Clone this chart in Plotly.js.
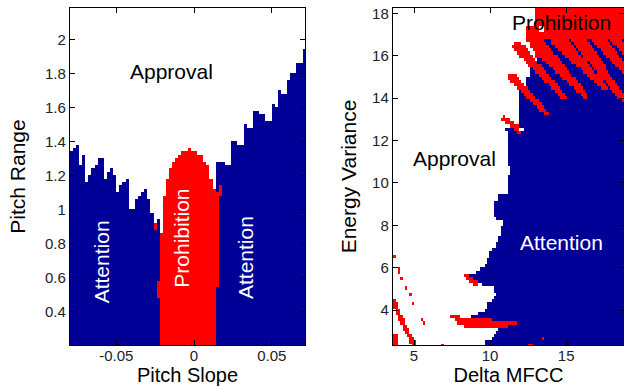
<!DOCTYPE html>
<html><head><meta charset="utf-8">
<script src="https://cdn.plot.ly/plotly-3.0.1.min.js"></script>
<style>html,body{margin:0;padding:0;background:#fff}</style>
</head><body><div id="chart" style="width:624px;height:386px"></div>
<script>
// ---------- Left panel: Pitch Slope vs Pitch Range ----------
const pitchSlope = [-0.079,-0.077,-0.075,-0.073,-0.071,-0.069,-0.067,-0.065,-0.063,-0.061,
  -0.059,-0.057,-0.055,-0.053,-0.051,-0.049,-0.047,-0.045,-0.043,-0.041,
  -0.039,-0.037,-0.035,-0.033,-0.031,-0.029,-0.027,-0.025,-0.023,-0.021,
  -0.019,-0.017,-0.015,-0.013,-0.011,-0.009,-0.007,-0.005,-0.003,-0.001,
  0.001,0.003,0.005,0.007,0.009,0.011,0.013,0.015,0.017,0.019,
  0.021,0.023,0.025,0.027,0.029,0.031,0.033,0.035,0.037,0.039,
  0.041,0.043,0.045,0.047,0.049,0.051,0.053,0.055,0.057,0.059,
  0.061,0.063,0.065,0.067,0.069,0.071];
// upper edge of the "Attention" region in each column (Pitch Range)
const attentionTop = [1.34,1.36,1.38,1.26,1.315,1.16,1.20,1.24,1.27,1.295,
  1.31,1.18,1.22,1.24,1.20,1.10,1.14,1.16,1.18,1.00,
  1.00,1.06,1.08,1.10,1.12,1.06,0.98,0.88,0.94,0,
  0,0,0,0,0,0,0,0,0,0,
  0,0,0,0,0,0,0,1.28,1.28,1.28,
  1.27,1.256,1.40,1.40,1.38,1.38,1.50,1.48,1.48,1.58,
  1.58,1.555,1.555,1.53,1.53,1.615,1.60,1.70,1.68,1.68,
  1.755,1.81,1.81,1.86,1.87,1.94];
// "Prohibition" interval in each column
const prohibLo = [null,null,null,null,null,null,null,null,null,null,
  null,null,null,null,null,null,null,null,null,null,
  null,null,null,null,null,null,null,0.88,0.49,0,
  0,0,0,0,0,0,0,0,0,0,
  0,0,0,0,0,0,0,0.55,1.08,null,
  null,null,null,null,null,null,null,null,null,null,
  null,null,null,null,null,null,null,null,null,null,
  null,null,null,null,null,null];
const prohibHi = [null,null,null,null,null,null,null,null,null,null,
  null,null,null,null,null,null,null,null,null,null,
  null,null,null,null,null,null,null,0.92,0.57,0.86,
  1.08,1.17,1.23,1.27,1.30,1.32,1.34,1.34,1.35,1.34,
  1.33,1.32,1.31,1.28,1.25,1.18,1.12,1.10,1.14,null,
  null,null,null,null,null,null,null,null,null,null,
  null,null,null,null,null,null,null,null,null,null,
  null,null,null,null,null,null];

// ---------- Right panel: Delta MFCC vs Energy Variance ----------
// horizontal bands: lower Energy Variance edge and Delta MFCC where "Attention" begins
const bandLow   = [2.30,2.49,2.68,2.82,2.96,3.15,3.40,3.58,3.76,3.91,4.09,4.33,4.57,4.71,4.85,5.04,5.18,5.32,5.51,5.65,5.79,5.98,6.22,6.45,6.69,6.83,6.97,7.16,7.54,7.92,8.25,8.39,9.19,9.38,10.37,10.75,12.40,12.64,14.48,14.99,15.56,15.94];
const bandStart = [9.61,10.07,10.26,10.39,10.53,10.99,9.87,8.82,9.26,9.61,9.87,10.09,10.26,10.41,10.20,9.47,9.14,8.82,8.55,9.03,9.32,9.61,9.76,9.93,10.10,10.26,10.41,10.59,10.74,10.79,10.33,10.22,10.53,11.20,11.32,11.20,10.99,11.91,12.30,12.70,13.09,13.09];
// solid "Prohibition" blocks (Delta MFCC from/to, Energy Variance from/to)
const blockX0 = [12.40,12.90,13.20];
const blockX1 = [12.95,13.25,18.90];
const blockY0 = [16.65,15.94,16.75];
const blockY1 = [17.45,18.40,18.40];
// "Prohibition" streaks: start / end points and widths at both ends
const streakX0 = [3.68,4.20,3.72,8.42,7.55,7.87,8.50,10.95,10.95,11.43,11.84,13.16,14.47,15.79,16.97,18.03];
const streakY0 = [4.40,3.45,2.80,5.60,3.68,3.50,3.30,3.40,13.00,14.99,16.41,16.50,16.74,16.83,16.98,16.98];
const streakX1 = [4.20,5.02,3.72,9.08,7.80,9.90,11.00,11.65,11.90,13.73,14.93,16.25,17.50,18.68,18.82,18.82];
const streakY1 = [3.45,2.36,2.33,5.22,3.68,3.45,3.25,3.35,12.50,13.29,14.00,14.14,14.52,14.00,15.32,16.27];
const streakW0 = [3,3,3,3,3,4,5,3,4,7,9,13,13,13,13,10];
const streakW1 = [3,3,3,3,3,4,5,3,4,3,3,4,4,4,5,5];
// isolated "Prohibition" cells
const dotX = [3.72,3.72,3.95,3.95,4.07,4.07,4.24,4.40,4.57,4.72,4.87,5.49,5.66,6.84,12.55,12.75,13.40];
const dotY = [6.75,6.55,6.25,6.10,5.90,5.75,5.46,5.10,4.80,4.65,4.33,3.55,3.36,2.40,2.40,2.40,2.62];
// small "Approval" gaps
const gapX0 = [13.20,11.84];
const gapX1 = [13.60,12.17];
const gapY0 = [17.07,12.40];
const gapY1 = [17.45,12.64];

// ---------- build left grid ----------
const leftRows = [];
for (let y = 0.21; y < 2.2; y += 0.02) leftRows.push(+y.toFixed(3));
const zL = leftRows.map(y => pitchSlope.map((x, i) => {
  if (prohibLo[i] !== null && y >= prohibLo[i] && y <= prohibHi[i]) return 2;
  return y < attentionTop[i] ? 1 : 0;
}));

// ---------- build right grid ----------
const rx = [], ry = [];
for (let x = 3.575; x < 19; x += 0.15) rx.push(+x.toFixed(3));
for (let y = 2.325; y < 18.5; y += 0.15) ry.push(+y.toFixed(3));
const PXX = 15.2, PXY = 21.19; // pixel scale, used for streak width only
function segDist(px, py, k) {
  const ax = streakX0[k]*PXX, ay = streakY0[k]*PXY, bx = streakX1[k]*PXX, by = streakY1[k]*PXY;
  const X = px*PXX, Y = py*PXY;
  const dx = bx-ax, dy = by-ay, L2 = dx*dx+dy*dy;
  let t = L2 ? ((X-ax)*dx+(Y-ay)*dy)/L2 : 0; t = Math.max(0, Math.min(1, t));
  const cx = ax+t*dx, cy = ay+t*dy;
  return {d: Math.hypot(X-cx, Y-cy), t};
}
const zR = ry.map(y => rx.map(x => {
  let v = 0;
  let b = -1;
  for (let k = 0; k < bandLow.length; k++) if (y >= bandLow[k]) b = k;
  if (b >= 0 && x >= bandStart[b]) v = 1;
  for (let k = 0; k < blockX0.length; k++)
    if (x >= blockX0[k] && x < blockX1[k] && y >= blockY0[k] && y < blockY1[k]) v = 2;
  for (let k = 0; k < streakX0.length; k++) {
    const r = segDist(x, y, k);
    const w = streakW0[k] + (streakW1[k]-streakW0[k])*r.t;
    if (r.d <= w/2 + 0.9) v = 2;
  }
  for (let k = 0; k < dotX.length; k++)
    if (Math.abs(x-dotX[k]) <= 0.075 && Math.abs(y-dotY[k]) <= 0.075) v = 2;
  for (let k = 0; k < gapX0.length; k++)
    if (x >= gapX0[k] && x < gapX1[k] && y >= gapY0[k] && y < gapY1[k]) v = 0;
  return v;
}));

const BLUE = '#000096', RED = '#ff0000';
const cs = [[0,'#ffffff'],[0.33,'#ffffff'],[0.34,BLUE],[0.66,BLUE],[0.67,RED],[1,RED]];
const traces = [
  {type:'heatmap', x: pitchSlope, y: leftRows, z: zL, zmin:0, zmax:2, colorscale: cs, showscale:false, xaxis:'x', yaxis:'y', hoverinfo:'skip'},
  {type:'heatmap', x: rx, y: ry, z: zR, zmin:0, zmax:2, colorscale: cs, showscale:false, xaxis:'x2', yaxis:'y2', hoverinfo:'skip'}
];

const axBase = {showline:true, linecolor:'#000', linewidth:1.2, mirror:'ticks', ticks:'inside', ticklen:5,
  tickcolor:'#000', showgrid:false, zeroline:false, tickfont:{size:15, color:'#222'}};
const yTop = (386-8)/386, yBot = (386-345)/386;
const layout = {
  width:624, height:386, margin:{l:0,r:0,t:0,b:0}, paper_bgcolor:'#fff', plot_bgcolor:'#fff', showlegend:false,
  font:{family:'Liberation Sans, Arial, sans-serif', color:'#000'},
  xaxis: Object.assign({}, axBase, {domain:[70/624, 305/624], range:[-0.0798, 0.0714], anchor:'y', ticklabelstandoff:-3,
    tickvals:[-0.05,0,0.05], ticktext:['-0.05','0','0.05'], title:{text:'Pitch Slope', font:{size:20}, standoff:0}}),
  yaxis: Object.assign({}, axBase, {domain:[yBot, yTop], range:[0.204, 2.184], anchor:'x',
    tickvals:[0.4,0.6,0.8,1,1.2,1.4,1.6,1.8,2], ticktext:['0.4','0.6','0.8','1','1.2','1.4','1.6','1.8','2'],
    title:{text:'Pitch Range', font:{size:21}, standoff:13}}),
  xaxis2: Object.assign({}, axBase, {domain:[393/624, 1], range:[3.62, 18.8], anchor:'y2', ticklabelstandoff:-3,
    tickvals:[5,10,15], title:{text:'Delta MFCC', font:{size:20}, standoff:0}}),
  yaxis2: Object.assign({}, axBase, {domain:[yBot, yTop], range:[2.35, 18.25], anchor:'x2',
    tickvals:[4,6,8,10,12,14,16,18], title:{text:'Energy Variance', font:{size:21}, standoff:9}}),
  annotations: [
    {xref:'x', yref:'y', x:-0.0148, y:1.81, text:'Approval', showarrow:false, font:{size:21, color:'#000'}},
    {xref:'x', yref:'y', x:-0.0594, y:0.694, text:'Attention', textangle:-90, showarrow:false, font:{size:21, color:'#fff'}},
    {xref:'x', yref:'y', x:-0.0079, y:0.833, text:'Prohibition', textangle:-90, showarrow:false, font:{size:21, color:'#fff'}},
    {xref:'x', yref:'y', x:0.0328, y:0.715, text:'Attention', textangle:-90, showarrow:false, font:{size:21, color:'#fff'}},
    {xref:'x2', yref:'y2', x:14.67, y:17.57, text:'Prohibition', showarrow:false, font:{size:21, color:'#000'}},
    {xref:'x2', yref:'y2', x:7.66, y:11.16, text:'Approval', showarrow:false, font:{size:21, color:'#000'}},
    {xref:'x2', yref:'y2', x:14.67, y:7.18, text:'Attention', showarrow:false, font:{size:21, color:'#fff'}}
  ]
};
Plotly.newPlot('chart', traces, layout, {displayModeBar:false, staticPlot:true});
</script></body></html>
